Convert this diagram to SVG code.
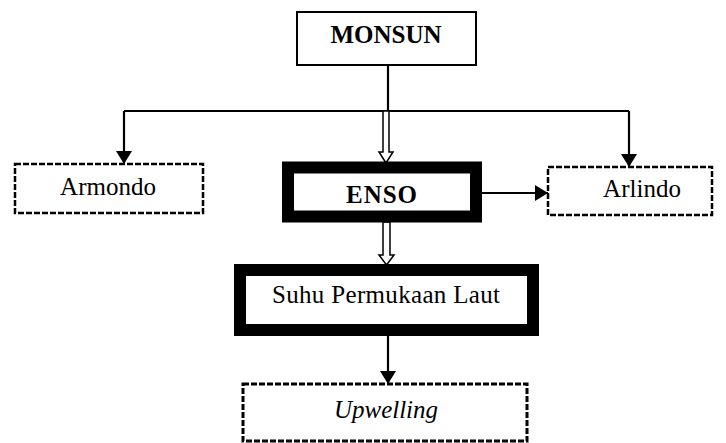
<svg xmlns="http://www.w3.org/2000/svg" width="726" height="443" viewBox="0 0 726 443">
<style>
  text { font-family: "Liberation Serif", "Times New Roman", serif; font-size: 25px; fill: #000; text-anchor: middle; }
  .b { font-weight: bold; }
  .i { font-style: italic; }
  .plain { fill: #fff; stroke: #000; stroke-width: 2; }
  .thick { fill: #fff; stroke: #000; stroke-width: 12; }
  .dash { fill: #fff; stroke: #000; stroke-width: 2.5; stroke-dasharray: 6 2; }
  .line { fill: none; stroke: #000; stroke-width: 2.2; }
  .hollow { fill: #fff; stroke: #000; stroke-width: 1.5; stroke-linejoin: miter; }
</style>
<defs>
  <marker id="ah" markerUnits="userSpaceOnUse" markerWidth="16" markerHeight="16" viewBox="0 0 16 16" refX="13" refY="8" orient="auto">
    <path d="M0,0 L13,8 L0,16 Z" fill="#000"/>
  </marker>
</defs>
<rect width="726" height="443" fill="#fff"/>
<g id="connectors">
  <line class="line" x1="388" y1="65" x2="388" y2="111"/>
  <line class="line" x1="124" y1="111" x2="629" y2="111"/>
  <line class="line" x1="124" y1="111" x2="124" y2="164" marker-end="url(#ah)"/>
  <line class="line" x1="629" y1="111" x2="629" y2="167" marker-end="url(#ah)"/>
  <polygon class="hollow" points="383,111 383,152 379,152 386,163 393,152 389,152 389,111"/>
  <line class="line" x1="482" y1="193" x2="548" y2="193" marker-end="url(#ah)"/>
  <polygon class="hollow" points="383,222 383,255 379,255 386.5,265 394,255 390,255 390,222"/>
  <line class="line" x1="388" y1="336" x2="388" y2="384" marker-end="url(#ah)"/>
</g>
<g id="monsun">
  <rect class="plain" x="297" y="12" width="179" height="53"/>
  <text class="b" x="386" y="43">MONSUN</text>
</g>
<g id="armondo">
  <rect class="dash" x="15" y="164" width="188" height="49"/>
  <text x="108" y="195">Armondo</text>
</g>
<g id="enso">
  <rect class="thick" x="288" y="167.5" width="188" height="49"/>
  <text class="b" x="382" y="203" letter-spacing="1">ENSO</text>
</g>
<g id="arlindo">
  <rect class="dash" x="548" y="167" width="164" height="48"/>
  <text x="642" y="197">Arlindo</text>
</g>
<g id="suhu">
  <rect class="thick" x="240" y="270" width="293" height="60"/>
  <text x="386" y="303" textLength="228" lengthAdjust="spacing">Suhu Permukaan Laut</text>
</g>
<g id="upwelling">
  <rect class="dash" x="243" y="384" width="284" height="57" style="stroke-width:3"/>
  <text class="i" x="386" y="418">Upwelling</text>
</g>
</svg>
